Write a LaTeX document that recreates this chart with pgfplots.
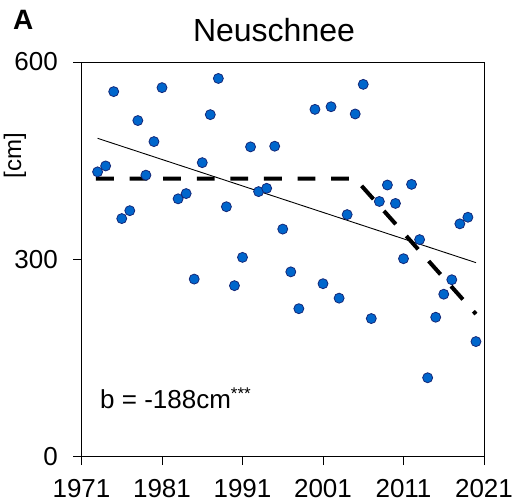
\documentclass[border=0pt]{standalone}
\usepackage{fontspec}
\setmainfont{Liberation Sans}
\usepackage{pgfplots}
\pgfplotsset{compat=1.18}
\definecolor{dotfill}{RGB}{0,102,204}
\definecolor{dotedge}{RGB}{20,40,120}
\begin{document}
\begin{tikzpicture}[x=1pt,y=1pt]
\useasboundingbox (0,0) rectangle (514,503);
\begin{axis}[
  at={(81.5pt,46.3pt)}, anchor=south west,
  scale only axis, width=402.5pt, height=394.7pt,
  xmin=1971, xmax=2021, ymin=0, ymax=600,
  xtick={1971,1981,...,2021}, ytick={0,300,600},
  xtick pos=bottom, ytick pos=left,
  tick align=outside, major tick length=8.5pt,
  axis line style={line width=1pt},
  every tick/.style={black, line width=1pt},
  /pgf/number format/assume math mode=true,
  /pgf/number format/1000 sep={},
  tick label style={font=\fontsize{26}{28}\selectfont, inner sep=0pt},
  xticklabel style={yshift=-14pt},
  yticklabel style={xshift=-15pt},
  clip=false,
]
% linear trend
\addplot[black, line width=0.9pt] coordinates {(1973,484) (2020,295)};
% breakpoint model
\addplot[black, line width=4pt, dash pattern=on 17.8pt off 15.8pt]
  coordinates {(1972.8,422.6) (2005,422.6) (2020,216.8)};
% annual new snow sums
\addplot[only marks, mark=*, mark size=5pt,
  mark options={fill=dotfill, draw=dotedge, line width=0.8pt}] table {
year snow
1973 433
1974 442
1975 555
1976 362
1977 374
1978 511
1979 428
1980 479
1981 561
1983 392
1984 400
1985 270
1986 447
1987 520
1988 575
1989 380
1990 260
1991 303
1992 471
1993 403
1994 408
1995 472
1996 346
1997 281
1998 225
2000 528
2001 263
2002 532
2003 241
2004 368
2005 521
2006 566
2007 210
2008 388
2009 413
2010 385
2011 301
2012 414
2013 330
2014 120
2015 212
2016 247
2017 269
2018 354
2019 364
2020 175
};
\end{axis}
\node[anchor=base, inner sep=0pt, font=\fontsize{32}{34}\selectfont] at (274,461.3) {Neuschnee};
\node[anchor=base west, inner sep=0pt, font=\fontsize{28}{30}\selectfont\bfseries] at (13,473.7) {A};
\node[rotate=90, anchor=base, inner sep=0pt, font=\fontsize{24}{26}\selectfont] at (21,347) {[cm]};
\node[anchor=base west, inner sep=0pt, font=\fontsize{26}{28}\selectfont] at (100,94)
  {b = -188cm\raisebox{9pt}{\fontsize{17}{17}\selectfont ***}};
\end{tikzpicture}
\end{document}
